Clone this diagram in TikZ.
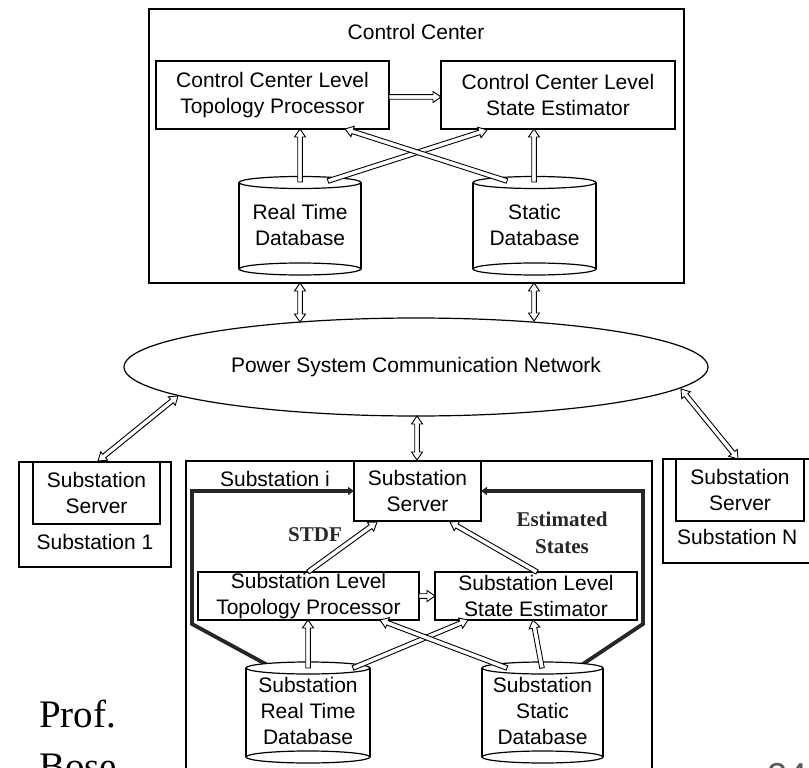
\documentclass[tikz,border=0pt]{standalone}
\usepackage{fontspec}
\setmainfont{Liberation Sans}
\newfontfamily\tnr{Liberation Serif}
\usetikzlibrary{calc,arrows.meta,shapes.geometric}
\newcommand\dfont{\fontsize{21}{26}\selectfont}
\def\arsw{2.3pt}\def\arhw{5.5pt}\def\arhl{8pt}
\tikzset{
  box/.style={draw, line width=1.2pt, fill=white, inner sep=0pt, align=center, font=\dfont},
  lbl/.style={inner sep=0pt, align=center, font=\dfont},
  harrowstyle/.style={draw, line width=0.9pt, fill=white, line join=miter},
  thickloop/.style={line width=3.8pt, black!85, -{Triangle[length=6pt,width=8pt]}},
  cylline/.style={line width=1.2pt},
  serifbold/.style={inner sep=0pt, align=center, font=\tnr\bfseries\fontsize{21}{27}\selectfont, text=black!85},
}
\newcommand\harrow[2]{%
  \path[harrowstyle] let \p1=($(#2)-(#1)$), \n1={atan2(\y1,\x1)}, \n2={veclen(\x1,\y1)} in
  ($(#1)+(\n1+90:\arsw)$)
  -- ($(#1)+(\n1:\n2*1pt-\arhl)+(\n1+90:\arsw)$)
  -- ($(#1)+(\n1:\n2*1pt-\arhl)+(\n1+90:\arhw)$)
  -- (#2)
  -- ($(#1)+(\n1:\n2*1pt-\arhl)+(\n1-90:\arhw)$)
  -- ($(#1)+(\n1:\n2*1pt-\arhl)+(\n1-90:\arsw)$)
  -- ($(#1)+(\n1-90:\arsw)$) -- cycle;}
\newcommand\dharrow[2]{%
  \path[harrowstyle] let \p1=($(#2)-(#1)$), \n1={atan2(\y1,\x1)}, \n2={veclen(\x1,\y1)} in
  ($(#1)+(\n1:\arhl)+(\n1+90:\arsw)$)
  -- ($(#1)+(\n1:\n2*1pt-\arhl)+(\n1+90:\arsw)$)
  -- ($(#1)+(\n1:\n2*1pt-\arhl)+(\n1+90:\arhw)$)
  -- (#2)
  -- ($(#1)+(\n1:\n2*1pt-\arhl)+(\n1-90:\arhw)$)
  -- ($(#1)+(\n1:\n2*1pt-\arhl)+(\n1-90:\arsw)$)
  -- ($(#1)+(\n1:\arhl)+(\n1-90:\arsw)$)
  -- ($(#1)+(\n1:\arhl)+(\n1-90:\arhw)$)
  -- (#1)
  -- ($(#1)+(\n1:\arhl)+(\n1+90:\arhw)$) -- cycle;}
\newcommand\cyl[4]{% cx, rx, ytop, ybot
  \fill[white] (#1-#2,#3) rectangle (#1+#2,#4);
  \draw[cylline] (#1-#2,#3) -- (#1-#2,#4) (#1+#2,#3) -- (#1+#2,#4);
  \draw[cylline, fill=white] (#1,#4) ellipse [x radius=#2pt, y radius=6pt];
  \draw[cylline, fill=white] (#1,#3) ellipse [x radius=#2pt, y radius=6pt];
}
\begin{document}
\begin{tikzpicture}[x=1pt,y=-1pt]
\useasboundingbox (0,0) rectangle (809,768);
\fill[white] (0,0) rectangle (809,768);
\clip (0,0) rectangle (809,768);

% ---------------- Control Center ----------------
\node[box, minimum width=535pt, minimum height=274pt] (cc) at (416.5,146) {};
\node[lbl] (cctitle) at (416,32) {Control Center};
\node[box, minimum width=233pt, minimum height=68pt] (cctp) at (272.5,95) {Control Center Level\\Topology Processor};
\node[box, minimum width=234pt, minimum height=68pt] (ccse) at (558,95) {Control Center Level\\State Estimator};
\cyl{300}{61}{182.5}{269}
\cyl{534.5}{61.5}{182.5}{269}
\node[lbl] (ccrt) at (300,225) {Real Time\\Database};
\node[lbl] (ccst) at (534.5,225) {Static\\Database};

\coordinate (a1s) at (389,97);  \coordinate (a1e) at (441,97);
\coordinate (a2s) at (300,182); \coordinate (a2e) at (300,129);
\coordinate (a3s) at (534,182); \coordinate (a3e) at (534,129);
\coordinate (a4s) at (328,181); \coordinate (a4e) at (487,130);
\coordinate (a5s) at (507,181); \coordinate (a5e) at (345,129);
\harrow{a1s}{a1e}
\harrow{a2s}{a2e}
\harrow{a3s}{a3e}
\harrow{a4s}{a4e}
\harrow{a5s}{a5e}

% ---------------- Network ----------------
\node[draw, ellipse, line width=1.2pt, fill=white, minimum width=584pt, minimum height=98pt, inner sep=0pt, font=\dfont] (net) at (416,367) {Power System Communication Network};

% ---------------- Substation 1 ----------------
\node[box, minimum width=152pt, minimum height=105pt] (s1) at (95,514.5) {};
\node[box, minimum width=127pt, minimum height=62pt] (s1srv) at (96.5,493) {Substation\\Server};
\node[lbl] (s1lbl) at (95,542) {Substation 1};

% ---------------- Substation N ----------------
\node[box, minimum width=167pt, minimum height=104pt] (sN) at (746.5,511) {};
\node[box, minimum width=128pt, minimum height=62pt] (sNsrv) at (740,490) {Substation\\Server};
\node[lbl, anchor=west] (sNlbl) at (677,537) {Substation N};

% ---------------- Substation i ----------------
\node[box, minimum width=466pt, minimum height=339pt] (si) at (419,630.5) {};
\node[lbl] (silbl) at (275,479) {Substation i};

\draw[thickloop] (273,668) -- (192,624) -- (192,491) -- (354,491);
\draw[thickloop] (577,668) -- (643,624) -- (643,491) -- (481,491);

\node[box, minimum width=127pt, minimum height=60pt] (srv) at (417.5,491) {Substation\\Server};
\node[box, minimum width=221pt, minimum height=48pt] (sltp) at (308.5,596) {Substation Level\\Topology Processor};
\node[box, minimum width=202pt, minimum height=48pt] (slse) at (536,596) {Substation Level\\State Estimator};

\cyl{308}{62}{668}{757}
\cyl{542.5}{60.5}{668}{757}
\node[lbl] (srt) at (308,711) {Substation\\Real Time\\Database};
\node[lbl] (sst) at (542.5,711) {Substation\\Static\\Database};

\node[serifbold] (stdf) at (315,535) {STDF};
\node[serifbold] (est) at (562,533) {Estimated\\States};

\coordinate (b1s) at (419,596); \coordinate (b1e) at (435,596);
\coordinate (b2s) at (308,572); \coordinate (b2e) at (377,522);
\coordinate (b3s) at (537,572); \coordinate (b3e) at (450,522);
\coordinate (b4s) at (308,668); \coordinate (b4e) at (308,620);
\coordinate (b5s) at (542,668); \coordinate (b5e) at (533,620);
\coordinate (b6s) at (353,668); \coordinate (b6e) at (468,620);
\coordinate (b7s) at (507,668); \coordinate (b7e) at (380,620);
\harrow{b1s}{b1e}
\harrow{b2s}{b2e}
\harrow{b3s}{b3e}
\harrow{b4s}{b4e}
\harrow{b5s}{b5e}
\harrow{b6s}{b6e}
\harrow{b7s}{b7e}

% ---------------- links to network ----------------
\coordinate (c1s) at (300,283); \coordinate (c1e) at (300,322);
\coordinate (c2s) at (534,283); \coordinate (c2e) at (534,321);
\coordinate (c3s) at (417,416); \coordinate (c3e) at (417,460);
\coordinate (c4s) at (178,396); \coordinate (c4e) at (98,461);
\coordinate (c5s) at (681,389); \coordinate (c5e) at (738,459);
\dharrow{c1s}{c1e}
\dharrow{c2s}{c2e}
\dharrow{c3s}{c3e}
\dharrow{c4s}{c4e}
\dharrow{c5s}{c5e}

% ---------------- slide text ----------------
\node[inner sep=0pt, anchor=base west, font=\tnr\fontsize{39}{52}\selectfont] (prof) at (39,727) {Prof.};
\node[inner sep=0pt, anchor=base west, font=\tnr\fontsize{39}{52}\selectfont] (bose) at (39,779) {Bose};
\node[inner sep=0pt, anchor=base west, font=\fontsize{36}{40}\selectfont, text=black!65] (pg) at (767,788) {24};
\end{tikzpicture}
\end{document}
